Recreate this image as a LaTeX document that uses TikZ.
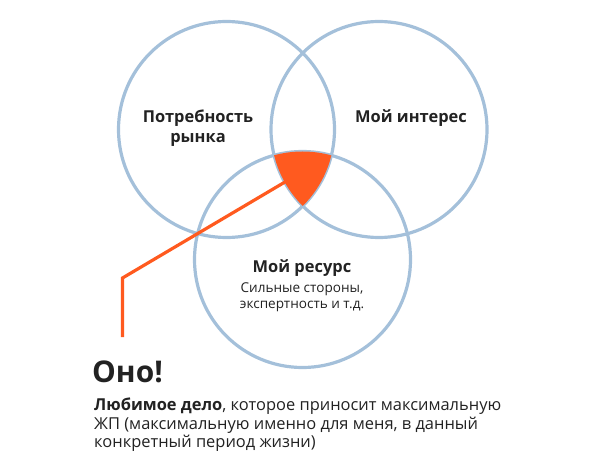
\documentclass[tikz,border=0pt]{standalone}
\usepackage{fontspec}
\setmainfont{Open Sans}
\usetikzlibrary{positioning}
\definecolor{ringblue}{HTML}{A4C0DA}
\definecolor{hotorange}{HTML}{FF5A1F}
\definecolor{inkgray}{HTML}{222222}
\begin{document}
\begin{tikzpicture}[x=1bp,y=-1bp,
    ring/.style={circle,draw=ringblue,line width=3.2bp,minimum size=216bp,inner sep=0pt},
    head/.style={text=inkgray,align=center,font=\fontsize{16.5}{20}\selectfont\bfseries},
    note/.style={text=inkgray,align=center,font=\fontsize{13.6}{16.5}\selectfont},
    lead/.style={draw=hotorange,line width=3.2bp}]
  \useasboundingbox (0,0) rectangle (591,472);
  % Circles
  \node[ring] (market) at (226.5,129.5) {};
  \node[ring] (interest) at (379,129.5) {};
  \node[ring] (resource) at (302.5,259.5) {};

  % Common part
  \begin{scope}
    \clip (market.center) circle (108);
    \clip (interest.center) circle (108);
    \fill[hotorange] (resource.center) circle (108);
  \end{scope}

  % Labels
  \node[head] (needs) at (198,128) {Потребность\\рынка};
  \node[head] (likes) at (411,118) {Мой интерес};
  \node[head] (skills) at (302,268) {Мой ресурс};
  \node[note,below=-1pt of skills] (skillsub) {Сильные стороны,\\экспертность и т.д.};

  % Pointer
  \coordinate (tip) at (285,182);
  \coordinate (bend) at (122.5,278);
  \coordinate (foot) at (122.5,337);
  \draw[lead] (tip) -- (bend) -- (foot);

  \node[anchor=base west,text=inkgray,font=\fontsize{30}{34}\selectfont\bfseries,inner sep=0pt] (it) at (92,382) {Оно!};
  \node[anchor=north west,text=inkgray,align=left,inner sep=0pt,font=\fontsize{16.5}{18.5}\selectfont] (text) at (94,398)
    {\textbf{Любимое дело}, которое приносит максимальную\\ЖП (максимальную именно для меня, в данный\\конкретный период жизни)};
\end{tikzpicture}
\end{document}
